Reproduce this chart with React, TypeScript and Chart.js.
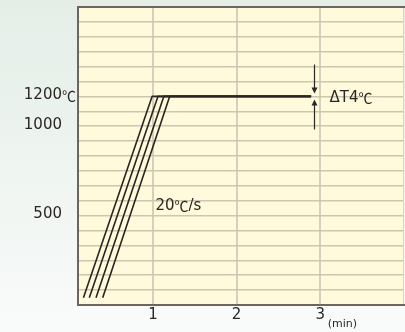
import { useEffect, useRef } from "react";
import { Chart, registerables, LinearScale } from "chart.js";

// ---- data ----
const xMin = 0.105;
const xMax = 4.0;
const xTicks = [1, 2, 3];
const xTickLabels = ["1", "2", "3"];
const xUnitLabel = "(min)";

// temperature axis of the figure is not uniform: these knots map °C to grid rows
const tempKnots = [0, 500, 1000, 1200, 1800];
const rowKnots = [0, 6, 12, 14, 20];
const yTickValues = [500, 1000, 1200];
const yTickLabels = ["500", "1000", "1200℃"];

const rampStartX = [0.17, 0.24, 0.32, 0.4];
const rampEndX = [0.99, 1.06, 1.13, 1.2];
const startTemp = 40;
const holdTemp = 1200;
const holdEndX = 2.89;

const rateLabel = "20℃/s";
const rateLabelAt = [1.03, 555];
const deltaLabel = "ΔT4℃";
const deltaArrowX = 2.93;
const deltaLabelX = 3.11;

// ---- piecewise temperature scale ----
const ROW_MAX = rowKnots[rowKnots.length - 1];
function interp(v: number, from: number[], to: number[]) {
  for (let i = 0; i < from.length - 1; i++) {
    if (v <= from[i + 1] || i === from.length - 2) {
      const t = (v - from[i]) / (from[i + 1] - from[i]);
      return to[i] + t * (to[i + 1] - to[i]);
    }
  }
  return to[to.length - 1];
}
const toRows = (t: number) => interp(t, tempKnots, rowKnots);
const fromRows = (r: number) => interp(r, rowKnots, tempKnots);

class PiecewiseScale extends LinearScale {
  static id = "piecewise";
  static defaults = LinearScale.defaults;
  getPixelForValue(value: any) {
    if (value === null || value === undefined || isNaN(value)) return NaN;
    return this.getPixelForDecimal(toRows(value) / ROW_MAX);
  }
  getValueForPixel(pixel: number) {
    return fromRows(this.getDecimalForPixel(pixel) * ROW_MAX);
  }
}

Chart.register(...registerables, PiecewiseScale as any);

const FONT = "'DejaVu Sans', sans-serif";
const SYM_FONT = "'Noto Sans CJK JP', 'DejaVu Sans', sans-serif";
const TEXT = "#2a2624";

// draws text, rendering ℃ with a CJK font so it has the full-width look
function drawMixed(ctx: CanvasRenderingContext2D, text: string, x: number, y: number, size: number, align: "left" | "right" = "left") {
  const parts = text.split(/(℃)/).filter((p) => p.length > 0);
  const fontFor = (p: string) => (p === "℃" ? `${size - 1}px ${SYM_FONT}` : `${size}px ${FONT}`);
  let total = 0;
  parts.forEach((p) => {
    ctx.font = fontFor(p);
    total += ctx.measureText(p).width;
  });
  let cx = align === "right" ? x - total : x;
  ctx.textAlign = "left";
  parts.forEach((p) => {
    ctx.font = fontFor(p);
    ctx.fillText(p, cx, y);
    cx += ctx.measureText(p).width;
  });
}

const decorPlugin = {
  id: "decor",
  beforeDraw(chart: any) {
    const { ctx, width, height, chartArea: a } = chart;
    ctx.save();
    const g = ctx.createLinearGradient(0, 0, 0, height);
    g.addColorStop(0, "#e4eee7");
    g.addColorStop(1, "#f9fbfa");
    ctx.fillStyle = g;
    ctx.fillRect(0, 0, width, height);
    ctx.fillStyle = "#fffadb";
    ctx.fillRect(a.left, a.top, a.right - a.left, a.bottom - a.top);
    ctx.restore();
  },
  afterDraw(chart: any) {
    const { ctx, chartArea: a, scales } = chart;
    const xs = scales.x;
    const ys = scales.y;
    ctx.save();
    // borders
    ctx.strokeStyle = "#d8d5c2";
    ctx.lineWidth = 1;
    ctx.beginPath();
    ctx.moveTo(a.right - 0.5, a.top);
    ctx.lineTo(a.right - 0.5, a.bottom);
    ctx.stroke();
    ctx.strokeStyle = "#6c665d";
    ctx.lineWidth = 2;
    ctx.beginPath();
    ctx.moveTo(a.left - 1, a.top);
    ctx.lineTo(chart.width, a.top);
    ctx.moveTo(a.left, a.top - 1);
    ctx.lineTo(a.left, a.bottom + 1);
    ctx.moveTo(a.left - 1, a.bottom);
    ctx.lineTo(chart.width, a.bottom);
    ctx.stroke();

    ctx.fillStyle = TEXT;
    ctx.textBaseline = "middle";
    // y labels: numbers right-aligned, unit hanging past the column
    yTickValues.forEach((v, i) => {
      const lab = yTickLabels[i];
      const num = lab.replace(/[^0-9]/g, "");
      const suffix = lab.slice(num.length);
      const y = ys.getPixelForValue(v) - 1;
      const xr = a.left - 16;
      drawMixed(ctx, num, xr, y, 15, "right");
      if (suffix) drawMixed(ctx, suffix, xr, y, 15, "left");
    });
    // x labels
    ctx.font = "15px " + FONT;
    ctx.textAlign = "center";
    xTicks.forEach((v, i) => {
      ctx.fillText(xTickLabels[i], xs.getPixelForValue(v), a.bottom + 10);
    });
    ctx.textAlign = "left";
    ctx.font = "11px " + FONT;
    ctx.fillText(xUnitLabel, xs.getPixelForValue(xTicks[xTicks.length - 1]) + 7.5, a.bottom + 19.5);

    // rate label
    drawMixed(ctx, rateLabel, xs.getPixelForValue(rateLabelAt[0]), ys.getPixelForValue(rateLabelAt[1]), 15);

    // delta arrows
    const ax = Math.round(xs.getPixelForValue(deltaArrowX)) + 0.5;
    const py = ys.getPixelForValue(holdTemp);
    ctx.strokeStyle = TEXT;
    ctx.lineWidth = 1.2;
    ctx.beginPath();
    ctx.moveTo(ax, py - 32);
    ctx.lineTo(ax, py - 7);
    ctx.moveTo(ax, py + 33);
    ctx.lineTo(ax, py + 7);
    ctx.stroke();
    ctx.beginPath();
    ctx.moveTo(ax, py - 3);
    ctx.lineTo(ax - 3, py - 9);
    ctx.lineTo(ax + 3, py - 9);
    ctx.closePath();
    ctx.moveTo(ax, py + 3);
    ctx.lineTo(ax - 3, py + 9);
    ctx.lineTo(ax + 3, py + 9);
    ctx.closePath();
    ctx.fill();

    drawMixed(ctx, deltaLabel, xs.getPixelForValue(deltaLabelX), py + 1.5, 15);
    ctx.restore();
  },
};

export default function App() {
  const ref = useRef<HTMLCanvasElement | null>(null);
  useEffect(() => {
    if (!ref.current) return;
    const datasets = rampStartX.map((x0, i) => ({
      data: [
        { x: x0, y: startTemp },
        { x: rampEndX[i], y: holdTemp },
        { x: holdEndX, y: holdTemp },
      ],
      borderColor: "#2a2521",
      borderWidth: 1.6,
      pointRadius: 0,
      tension: 0,
      borderJoinStyle: "round" as const,
      fill: false,
    }));
    const gridRows = Array.from({ length: ROW_MAX + 1 }, (_, r) => r);
    const chart = new Chart(ref.current, {
      type: "line",
      data: { datasets },
      plugins: [decorPlugin],
      options: {
        responsive: false,
        animation: false,
        devicePixelRatio: 1,
        layout: { padding: { top: 7, right: 1, left: 0, bottom: 0 } },
        plugins: { legend: { display: false }, tooltip: { enabled: false } },
        scales: {
          x: {
            type: "linear",
            min: xMin,
            max: xMax,
            afterBuildTicks: (s: any) => {
              s.ticks = xTicks.map((v) => ({ value: v }));
            },
            afterFit: (s: any) => {
              s.height = 27;
            },
            ticks: { display: false },
            grid: { drawTicks: false, color: "#d3d0bc", lineWidth: 2 },
            border: { display: false },
          },
          y: {
            type: "piecewise" as any,
            min: tempKnots[0],
            max: tempKnots[tempKnots.length - 1],
            afterBuildTicks: (s: any) => {
              s.ticks = gridRows.map((r) => ({ value: fromRows(r) }));
            },
            afterFit: (s: any) => {
              s.width = 78;
            },
            ticks: { display: false },
            grid: { drawTicks: false, color: "#cac7b1", lineWidth: 1.5 },
            border: { display: false },
          },
        },
      } as any,
    });
    return () => chart.destroy();
  }, []);
  return (
    <div style={{ position: "fixed", left: 0, top: 0, width: 405, height: 332 }}>
      <canvas ref={ref} width={405} height={332} style={{ display: "block" }} />
    </div>
  );
}
